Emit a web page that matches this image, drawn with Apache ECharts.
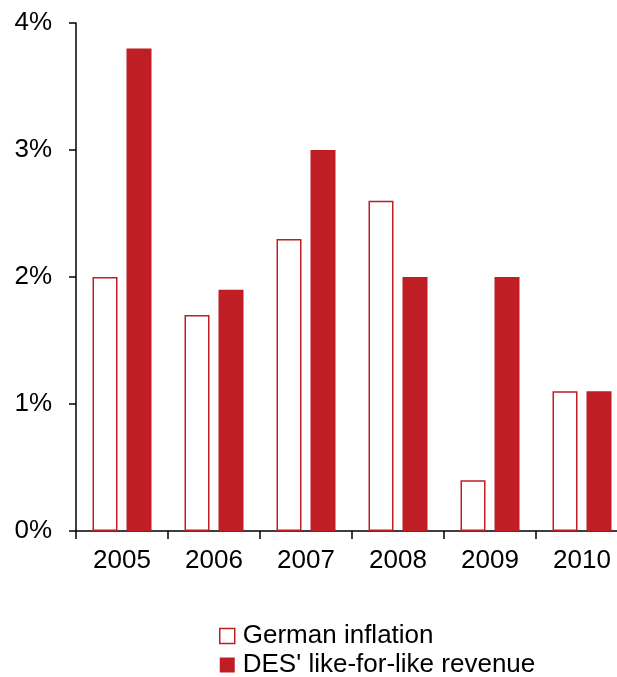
<!DOCTYPE html>
<html>
<head>
<meta charset="utf-8">
<script src="https://cdn.jsdelivr.net/npm/echarts@6/dist/echarts.min.js"></script>
<style>
  html, body { margin: 0; padding: 0; background: #fff; }
  #chart { width: 617px; height: 677px; }
</style>
</head>
<body>
<div id="chart"></div>
<script>
// Annual rates, in percent
const years = ['2005', '2006', '2007', '2008', '2009', '2010'];
const germanInflation = [2.0, 1.7, 2.3, 2.6, 0.4, 1.1];
const desLikeForLike = [3.8, 1.9, 3.0, 2.0, 2.0, 1.1];
const yTicks = [0, 1, 2, 3, 4];

const RED = '#BE1E24';
const FONT = 'Liberation Sans, Arial, sans-serif';

const chart = echarts.init(document.getElementById('chart'));
chart.setOption({
  animation: false,
  textStyle: { fontFamily: FONT },
  grid: { left: 76, top: 23, width: 552, height: 508, containLabel: false, outerBoundsMode: 'none' },
  xAxis: {
    type: 'category',
    data: years,
    axisLine: { lineStyle: { color: '#000', width: 1.5 } },
    axisTick: { show: true, length: 8, lineStyle: { color: '#000', width: 1.5 } },
    axisLabel: { color: '#000', fontSize: 26, margin: 17, fontFamily: FONT }
  },
  yAxis: {
    type: 'value',
    min: yTicks[0],
    max: yTicks[yTicks.length - 1],
    interval: 1,
    splitLine: { show: false },
    axisLine: { show: true, lineStyle: { color: '#000', width: 1.5 } },
    axisTick: { show: true, length: 7, lineStyle: { color: '#000', width: 1.5 } },
    axisLabel: { color: '#000', fontSize: 26, margin: 24, fontFamily: FONT,
                 formatter: v => v + '%' }
  },
  legend: {
    orient: 'vertical',
    left: 219,
    top: 623,
    width: 398,
    height: 100,
    padding: 0,
    itemWidth: 15,
    itemHeight: 15,
    itemGap: 3,
    textStyle: { color: '#000', fontSize: 26, fontFamily: FONT, padding: [0, 0, 0, 3] },
    data: [
      { name: 'German inflation', icon: 'rect',
        itemStyle: { color: '#fff', borderColor: RED, borderWidth: 1.5 } },
      { name: "DES' like-for-like revenue", icon: 'rect',
        itemStyle: { color: RED, borderWidth: 0 } }
    ]
  },
  series: [
    {
      name: 'German inflation',
      type: 'bar',
      data: germanInflation,
      barWidth: 25,
      barGap: '36%',
      itemStyle: { color: '#fff', borderColor: RED, borderWidth: 1.5 }
    },
    {
      name: "DES' like-for-like revenue",
      type: 'bar',
      data: desLikeForLike,
      barWidth: 25,
      itemStyle: { color: RED }
    }
  ]
});
</script>
</body>
</html>
